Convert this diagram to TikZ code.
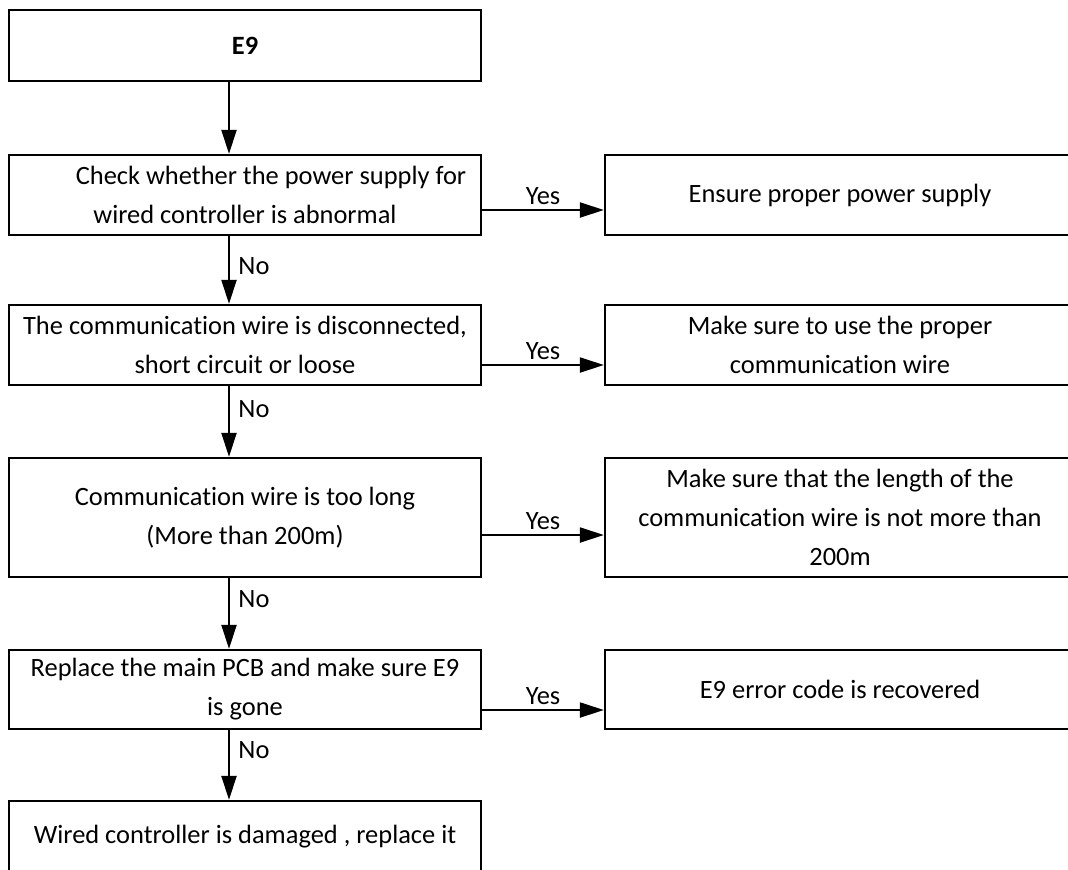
\documentclass[tikz,border=0pt]{standalone}
\usepackage{fontspec}
\setmainfont[RawFeature={-liga;-clig;-calt;-dlig}]{Carlito}
\usetikzlibrary{arrows.meta, positioning}

\begin{document}
\begin{tikzpicture}[
    every node/.style={font=\fontsize{18.8}{27.7}\selectfont},
    caixa/.style={
        draw=black,
        line width=1.7pt,
        align=center,
        inner sep=0pt
    },
    seta/.style={
        -{Triangle[length=0.6cm, width=0.38cm]},
        line width=1.1pt
    }
]

\useasboundingbox (0,0) rectangle (26.7,-21.725);

% ============================================================
% COLUNA DA ESQUERDA
% ============================================================

\node[
    caixa,
    font=\fontsize{18.8}{27.7}\selectfont\bfseries,
    minimum width=11.8cm,
    minimum height=1.775cm
] (e9) at (6.125,-1.1375)
{E9};

\node[
    caixa,
    minimum width=11.8cm,
    minimum height=2.0cm
] (q1) at (6.125,-4.875)
{\hspace*{1.3cm}Check whether the power supply for\\
wired controller is abnormal};

\node[
    caixa,
    minimum width=11.8cm,
    minimum height=2.0cm
] (q2) at (6.125,-8.625)
{The communication wire is disconnected,\\
short circuit or loose};

\node[
    caixa,
    minimum width=11.8cm,
    minimum height=2.975cm
] (q3) at (6.125,-12.9375)
{Communication wire is too long\\
(More than 200m)};

\node[
    caixa,
    minimum width=11.8cm,
    minimum height=1.975cm
] (q4) at (6.125,-17.2375)
{Replace the main PCB and make sure E9\\
is gone};

\node[
    caixa,
    minimum width=11.8cm,
    minimum height=1.775cm
] (q5) at (6.125,-20.9125)
{Wired controller is damaged , replace it};

% ============================================================
% COLUNA DA DIREITA
% ============================================================

\node[
    caixa,
    minimum width=11.75cm,
    minimum height=2.0cm
] (r1) at (21.0,-4.875)
{Ensure proper power supply};

\node[
    caixa,
    minimum width=11.75cm,
    minimum height=2.0cm
] (r2) at (21.0,-8.625)
{Make sure to use the proper\\
communication wire};

\node[
    caixa,
    minimum width=11.75cm,
    minimum height=2.975cm
] (r3) at (21.0,-12.9375)
{Make sure that the length of the\\
communication wire is not more than\\
200m};

\node[
    caixa,
    minimum width=11.75cm,
    minimum height=1.975cm
] (r4) at (21.0,-17.2375)
{E9 error code is recovered};

% ============================================================
% SETAS
% ============================================================

% Descendo (No)
\draw[seta]
    ([xshift=-0.4cm]e9.south) -- ([xshift=-0.4cm]q1.north);

\foreach \a/\b/\p in {q1/q2/0.44, q2/q3/0.33, q3/q4/0.3, q4/q5/0.29}
    \draw[seta]
        ([xshift=-0.4cm]\a.south) --
        node[right, pos=\p, xshift=0.1cm]{No}
        ([xshift=-0.4cm]\b.north);

% Para a direita (Yes)
\foreach \a/\b/\d in {q1/r1/0.375, q2/r2/0.5, q3/r3/0.4375, q4/r4/0.5125}
    \draw[seta]
        ([yshift=-\d cm]\a.east) --
        node[above]{Yes}
        ([yshift=-\d cm]\b.west);

\end{tikzpicture}
\end{document}
